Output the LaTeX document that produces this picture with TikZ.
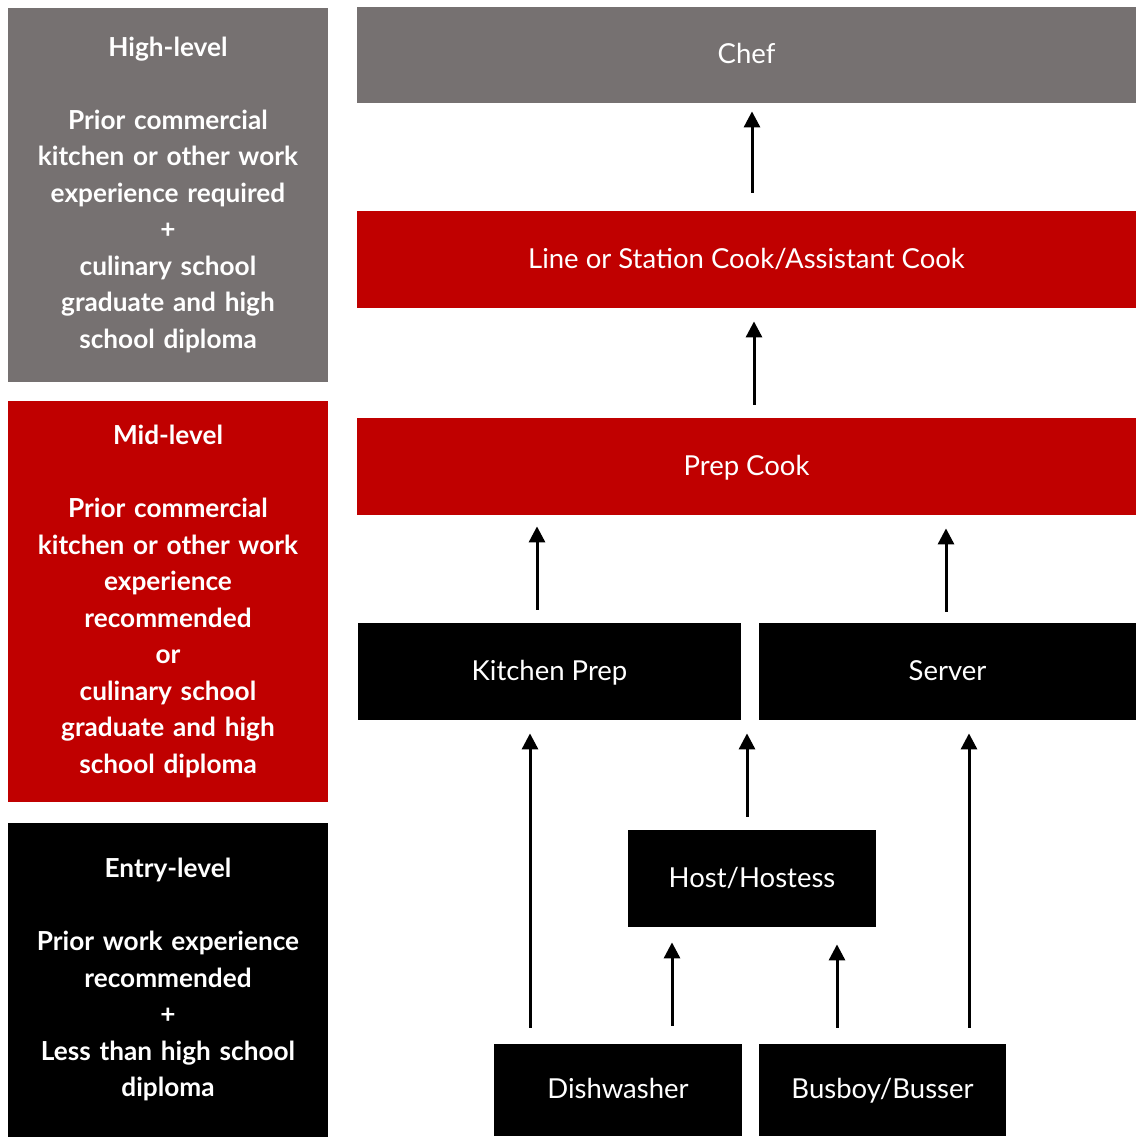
\documentclass[tikz,border=0pt]{standalone}
\usepackage{fontspec}
\setmainfont{Lato}
\usetikzlibrary{arrows.meta}
\definecolor{hgray}{HTML}{767171}
\definecolor{hred}{HTML}{C00000}
\begin{document}
\begin{tikzpicture}[x=0.5pt,y=-0.5pt,
  lvl/.style={inner sep=0pt, text=white, align=center, text width=155pt,
    font=\fontsize{13.1}{18.25}\selectfont\bfseries},
  job/.style={inner sep=0pt, text=white, align=center, text height=0.9em, text depth=0.04em,
    font=\fontsize{13.75}{15}\selectfont},
  arr/.style={line width=1.5pt, -{Triangle[length=8pt,width=8pt]}}]
\useasboundingbox (0,0) rectangle (1136,1137);
% level boxes
\node[lvl, fill=hgray, minimum width=160pt, minimum height=187pt] (high) at (168,194.5)
  {High-level\\[18.25pt]Prior commercial\\kitchen or other work\\experience required\\+\\culinary school\\graduate and high\\school diploma};
\node[lvl, fill=hred, minimum width=160pt, minimum height=200.5pt] (mid) at (168,601.5)
  {Mid-level\\[18.25pt]Prior commercial\\kitchen or other work\\experience\\recommended\\or\\culinary school\\graduate and high\\school diploma};
\node[lvl, fill=black, minimum width=160pt, minimum height=157pt] (entry) at (168,979.5)
  {Entry-level\\[18.25pt]Prior work experience\\recommended\\+\\Less than high school\\diploma};
% job boxes
\node[job, fill=hgray, minimum width=389.5pt, minimum height=48pt] (chef) at (746.5,55) {Chef};
\node[job, fill=hred, minimum width=389.5pt, minimum height=48.5pt] (line) at (746.5,259.5) {Line or Station Cook/Assistant Cook};
\node[job, fill=hred, minimum width=389.5pt, minimum height=48.5pt] (prep) at (746.5,466.5) {Prep Cook};
\node[job, fill=black, minimum width=191.5pt, minimum height=48.5pt] (kp) at (549.5,671.5) {Kitchen Prep};
\node[job, fill=black, minimum width=188.5pt, minimum height=48.5pt] (server) at (947.5,671.5) {Server};
\node[job, fill=black, minimum width=124pt, minimum height=48.5pt] (host) at (752,878.5) {Host/Hostess};
\node[job, fill=black, minimum width=124pt, minimum height=46pt] (dish) at (618,1090) {Dishwasher};
\node[job, fill=black, minimum width=123.5pt, minimum height=46pt] (bus) at (882.5,1090) {Busboy/Busser};
% arrows
\draw[arr, shorten <=9pt, shorten >=4pt] (752,0 |- line.north) -- (752,0 |- chef.south);
\draw[arr, shorten <=6.5pt, shorten >=6.5pt] (754,0 |- prep.north) -- (754,0 |- line.south);
\draw[arr, shorten <=6.5pt, shorten >=5.5pt] (537,0 |- kp.north) -- (537,0 |- prep.south);
\draw[arr, shorten <=5.5pt, shorten >=6.5pt] (946,0 |- server.north) -- (946,0 |- prep.south);
\draw[arr, shorten <=8pt, shorten >=6.5pt] (530,0 |- dish.north) -- (530,0 |- kp.south);
\draw[arr, shorten <=6.5pt, shorten >=6.5pt] (747,0 |- host.north) -- (747,0 |- kp.south);
\draw[arr, shorten <=8pt, shorten >=6.5pt] (969,0 |- bus.north) -- (969,0 |- server.south);
\draw[arr, shorten <=9pt, shorten >=7.5pt] (672,0 |- dish.north) -- (672,0 |- host.south);
\draw[arr, shorten <=8pt, shorten >=8.5pt] (837,0 |- bus.north) -- (837,0 |- host.south);
\end{tikzpicture}
\end{document}
